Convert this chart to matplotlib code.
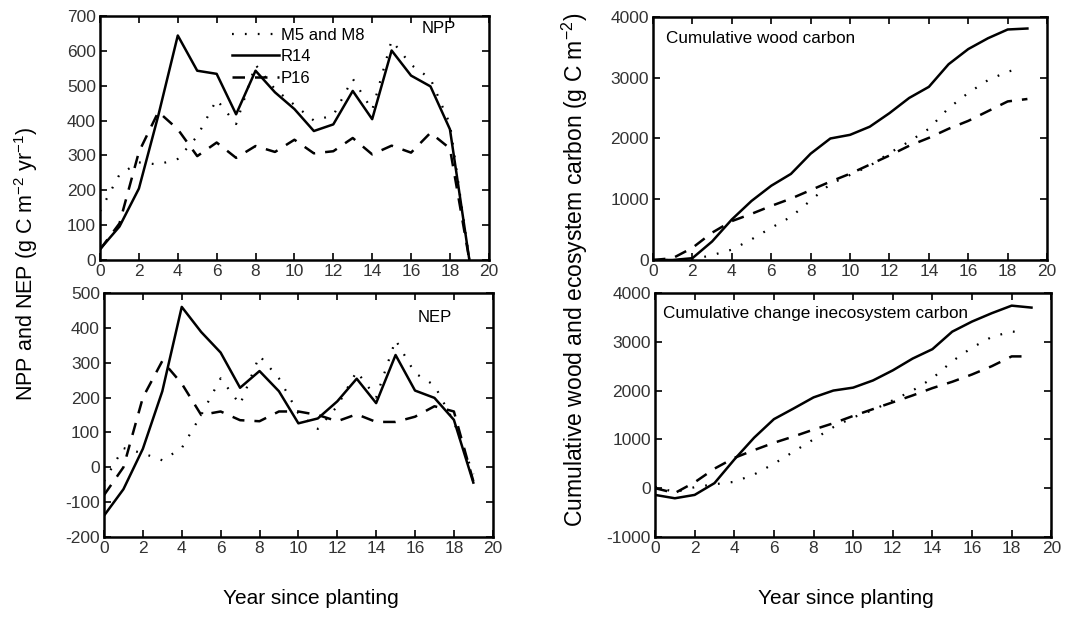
import numpy as np
import matplotlib
matplotlib.use("Agg")
import matplotlib.pyplot as plt

plt.rcParams['font.family'] = ['Liberation Sans', 'DejaVu Sans']
plt.rcParams['mathtext.fontset'] = 'custom'
plt.rcParams['mathtext.rm'] = 'Liberation Sans'
plt.rcParams['axes.unicode_minus'] = False

# year since planting
years = list(range(20))

# NPP (g C m-2 yr-1)
npp_m5m8 = [140, 245, 280, 274, 290, 355, 460, 390, 560, 490, 445, 400, 415, 520, 430, 630, 560, 520, 390, 0]
npp_r14 = [31, 96, 205, 415, 644, 543, 534, 418, 543, 481, 433, 370, 389, 485, 404, 601, 529, 498, 375, 0]
npp_p16 = [30, 105, 310, 425, 375, 298, 337, 293, 327, 310, 345, 306, 312, 350, 303, 328, 308, 365, 320, 0]

# NEP (g C m-2 yr-1)
nep_m5m8 = [-40, 55, 40, 20, 55, 150, 255, 180, 320, 255, 155, 110, 175, 275, 200, 365, 270, 235, 130, -20]
nep_r14 = [-139, -63, 53, 218, 460, 388, 329, 228, 276, 218, 126, 140, 189, 254, 184, 322, 220, 199, 136, -44]
nep_p16 = [-80, 0, 200, 305, 240, 150, 160, 135, 132, 160, 160, 150, 132, 152, 130, 130, 145, 175, 160, -40]

# cumulative wood carbon (g C m-2)
wood_years_m5m8 = list(range(19)) + [18.5]
wood_m5m8 = [0, 0, 10, 80, 170, 340, 530, 710, 980, 1250, 1400, 1550, 1760, 1950, 2160, 2500, 2750, 2960, 3100, 3140]
wood_r14 = [0, 0, 30, 305, 667, 972, 1222, 1417, 1750, 2000, 2060, 2194, 2417, 2667, 2850, 3222, 3472, 3650, 3794, 3810]
wood_p16 = [0, 30, 200, 450, 640, 760, 890, 1010, 1150, 1290, 1420, 1570, 1720, 1880, 2010, 2160, 2290, 2450, 2610, 2650]

# cumulative change in ecosystem carbon (g C m-2)
eco_years_m5m8 = list(range(19)) + [18.6]
eco_m5m8 = [30, -80, 20, 80, 130, 280, 500, 750, 1000, 1250, 1450, 1600, 1800, 2000, 2250, 2600, 2880, 3100, 3210, 3190]
eco_r14 = [-138, -207, -138, 103, 586, 1034, 1414, 1634, 1860, 2000, 2060, 2207, 2414, 2655, 2848, 3207, 3414, 3586, 3740, 3700]
eco_p16 = [0, -100, 120, 400, 620, 780, 930, 1060, 1200, 1330, 1480, 1620, 1760, 1900, 2050, 2180, 2330, 2500, 2700, 2700]

fig = plt.figure(figsize=(10.71, 6.17), dpi=100)

ax_npp = fig.add_axes([0.0934, 0.5786, 0.363, 0.3955])
ax_nep = fig.add_axes([0.0971, 0.1297, 0.363, 0.3955])
ax_wood = fig.add_axes([0.6097, 0.5786, 0.368, 0.3939])
ax_eco = fig.add_axes([0.6116, 0.1297, 0.370, 0.3955])

dot_style = dict(color='black', lw=1.6, linestyle=(0, (0.8, 5)))
solid_style = dict(color='black', lw=1.8, linestyle='-')
dash_style = dict(color='black', lw=1.8, linestyle=(0, (5, 4)))

ax_npp.plot(years, npp_m5m8, label='M5 and M8', **dot_style)
ax_npp.plot(years, npp_r14, label='R14', **solid_style)
ax_npp.plot(years, npp_p16, label='P16', **dash_style)

ax_nep.plot(years, nep_m5m8, **dot_style)
ax_nep.plot(years, nep_r14, **solid_style)
ax_nep.plot(years, nep_p16, **dash_style)

ax_wood.plot(wood_years_m5m8, wood_m5m8, **dot_style)
ax_wood.plot(years, wood_r14, **solid_style)
ax_wood.plot(years, wood_p16, **dash_style)

ax_eco.plot(eco_years_m5m8, eco_m5m8, **dot_style)
ax_eco.plot(years, eco_r14, **solid_style)
ax_eco.plot(years, eco_p16, **dash_style)

ax_npp.set_ylim(0, 700)
ax_npp.set_yticks(np.arange(0, 701, 100))
ax_nep.set_ylim(-200, 500)
ax_nep.set_yticks(np.arange(-200, 501, 100))
ax_wood.set_ylim(0, 4000)
ax_wood.set_yticks(np.arange(0, 4001, 1000))
ax_eco.set_ylim(-1000, 4000)
ax_eco.set_yticks(np.arange(-1000, 4001, 1000))

for ax in (ax_npp, ax_nep, ax_wood, ax_eco):
    ax.set_xlim(0, 20)
    ax.set_xticks(np.arange(0, 21, 2))
    ax.tick_params(direction='in', top=True, right=True, length=5, width=1.2,
                   labelsize=12.5, labelcolor='#333333', pad=3)
    for sp in ax.spines.values():
        sp.set_linewidth(1.8)

ax_npp.legend(loc='upper left', bbox_to_anchor=(0.31, 1.0), frameon=False,
              handlelength=2.8, handletextpad=0.1, labelspacing=0.4,
              borderpad=0.2, fontsize=12)
ax_npp.text(0.915, 0.95, 'NPP', transform=ax_npp.transAxes, ha='right', va='center', fontsize=12)
ax_nep.text(0.895, 0.90, 'NEP', transform=ax_nep.transAxes, ha='right', va='center', fontsize=12)
ax_wood.text(0.033, 0.91, 'Cumulative wood carbon', transform=ax_wood.transAxes,
             ha='left', va='center', fontsize=12.3)
ax_eco.text(0.02, 0.915, 'Cumulative change inecosystem carbon', transform=ax_eco.transAxes,
            ha='left', va='center', fontsize=12.3)

fig.text(0.024, 0.572, 'NPP and NEP (g C m$^{-2}$ yr$^{-1}$)', rotation=90,
         ha='center', va='center', fontsize=15.5)
fig.text(0.537, 0.5625, 'Cumulative wood and ecosystem carbon (g C m$^{-2}$)', rotation=90,
         ha='center', va='center', fontsize=16.5)
fig.text(0.29, 0.03, 'Year since planting', ha='center', va='center', fontsize=15)
fig.text(0.79, 0.03, 'Year since planting', ha='center', va='center', fontsize=15)

fig.savefig('out.png', dpi=100)
